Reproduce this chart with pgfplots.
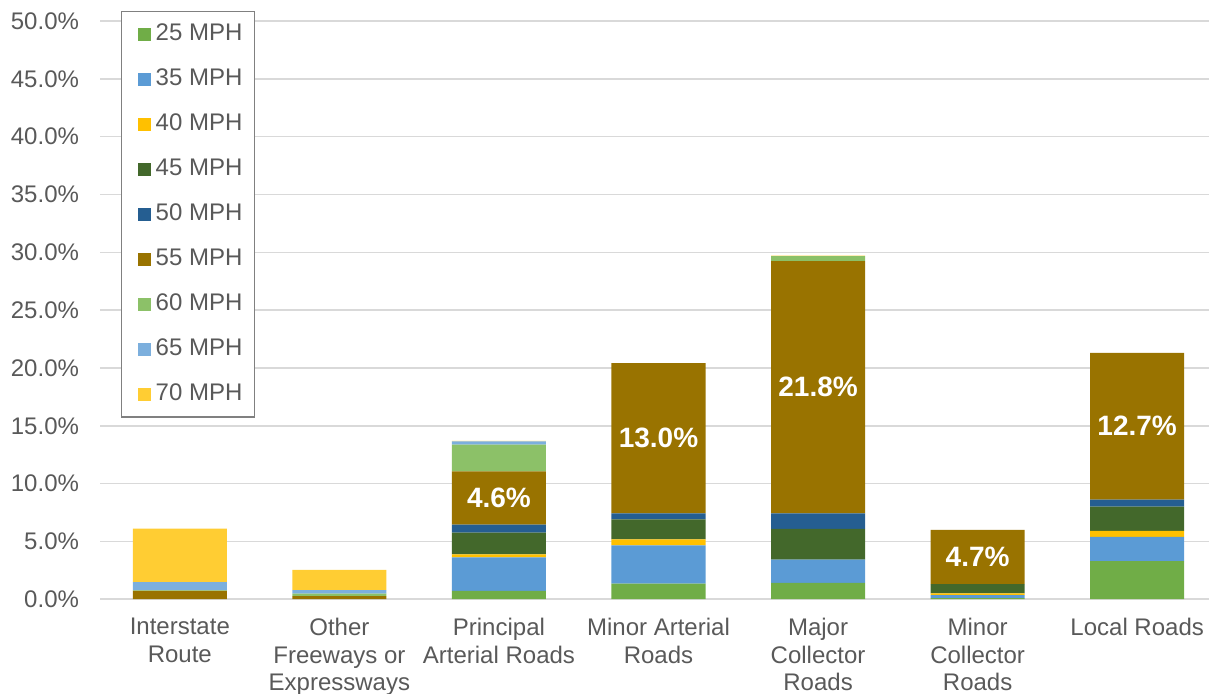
\documentclass[border=0pt]{standalone}
\usepackage{pgfplots}
\pgfplotsset{compat=1.18}
\usepackage{fontspec}
\setmainfont{Liberation Sans}

\definecolor{txtgray}{RGB}{89,89,89}
\definecolor{gridgray}{RGB}{217,217,217}
\definecolor{c25}{RGB}{112,173,71}
\definecolor{c35}{RGB}{91,155,213}
\definecolor{c40}{RGB}{255,192,0}
\definecolor{c45}{RGB}{67,104,43}
\definecolor{c50}{RGB}{37,94,145}
\definecolor{c55}{RGB}{153,115,0}
\definecolor{c60}{RGB}{140,193,104}
\definecolor{c65}{RGB}{124,175,221}
\definecolor{c70}{RGB}{255,205,51}

\begin{document}
\begin{tikzpicture}
\begin{axis}[
  ybar stacked,
  x=79.75pt, y=5.78pt,
  bar width=47pt,
  xmin=-0.5, xmax=6.45,
  ymin=0, ymax=50,
  ytick={0,5,...,50},
  xtick={0,...,6},
  xticklabels={Interstate\\Route, Other\\Freeways or\\Expressways, Principal\\Arterial Roads, Minor Arterial\\Roads, Major\\Collector\\Roads, Minor\\Collector\\Roads, Local Roads},
  xticklabel style={align=center, font=\fontsize{12}{13.75}\selectfont, text=txtgray, yshift=-6pt},
  yticklabel={\pgfmathprintnumber[fixed,fixed zerofill,precision=1,assume math mode=true]{\tick}\%},
  yticklabel style={font=\fontsize{12}{14}\selectfont, text=txtgray, xshift=-7pt},
  major tick length=0pt,
  ymajorgrids,
  grid style={gridgray, line width=0.75pt},
  axis line style={draw=none},
  point meta min=0, point meta max=50,
  legend cell align=left,
  legend style={at={(0.019,1.017)}, anchor=north west, draw=gray, line width=0.6pt,
    font=\fontsize{12}{14}\selectfont, text=txtgray,
    nodes={inner sep=1pt, text height=9pt, text depth=2.5pt},
    row sep=9pt, inner xsep=5pt, inner ysep=4.5pt},
  legend image code/.code={\path (0pt,0pt); \fill[#1] (3pt,-3.25pt) rectangle (9.5pt,3.25pt); \path (11pt,0pt);},
  every axis plot/.append style={draw=none},
]
\coordinate (A) at (rel axis cs:0,0);
\coordinate (B) at (rel axis cs:1,1);
\addplot[fill=c25] coordinates {(0,0) (1,0) (2,0.72) (3,1.36) (4,1.42) (5,0.10) (6,3.29)};
\addplot[fill=c35] coordinates {(0,0) (1,0) (2,2.91) (3,3.29) (4,2.01) (5,0.25) (6,2.10)};
\addplot[fill=c40] coordinates {(0,0) (1,0) (2,0.26) (3,0.52) (4,0) (5,0.15) (6,0.52)};
\addplot[fill=c45] coordinates {(0,0) (1,0) (2,1.88) (3,1.73) (4,2.65) (5,0.80) (6,2.10)};
\addplot[fill=c50] coordinates {(0,0) (1,0) (2,0.69) (3,0.52) (4,1.35) (5,0) (6,0.60)};
% 55 MPH: labels inside the segment (meta = segment height, shown when large)
\addplot[fill=c55, point meta=explicit,
  nodes near coords={\ifdim\pgfplotspointmetatransformed pt>60pt\pgfmathprintnumber[fixed,fixed zerofill,precision=1,assume math mode=true]{\pgfplotspointmeta}\%\fi},
  every node near coord/.style={anchor=center,
    font=\fontsize{14}{16}\selectfont\bfseries, text=white}]
  coordinates {(0,0.72)[0.72] (1,0.26)[0.26] (2,4.6)[4.6] (3,13.0)[13.0] (4,21.8)[21.8] (5,4.7)[4.7] (6,12.7)[12.7]};
\addplot[fill=c60] coordinates {(0,0.05) (1,0.23) (2,2.30) (3,0) (4,0.43) (5,0) (6,0)};
\addplot[fill=c65] coordinates {(0,0.72) (1,0.29) (2,0.29) (3,0) (4,0) (5,0) (6,0)};
\addplot[fill=c70] coordinates {(0,4.62) (1,1.76) (2,0.05) (3,0) (4,0.05) (5,0) (6,0)};
\legend{25 MPH, 35 MPH, 40 MPH, 45 MPH, 50 MPH, 55 MPH, 60 MPH, 65 MPH, 70 MPH}
\end{axis}
\pgfresetboundingbox
\path ([xshift=-50pt,yshift=-47pt]A) rectangle ([yshift=10.5pt]B);
\end{tikzpicture}
\end{document}
